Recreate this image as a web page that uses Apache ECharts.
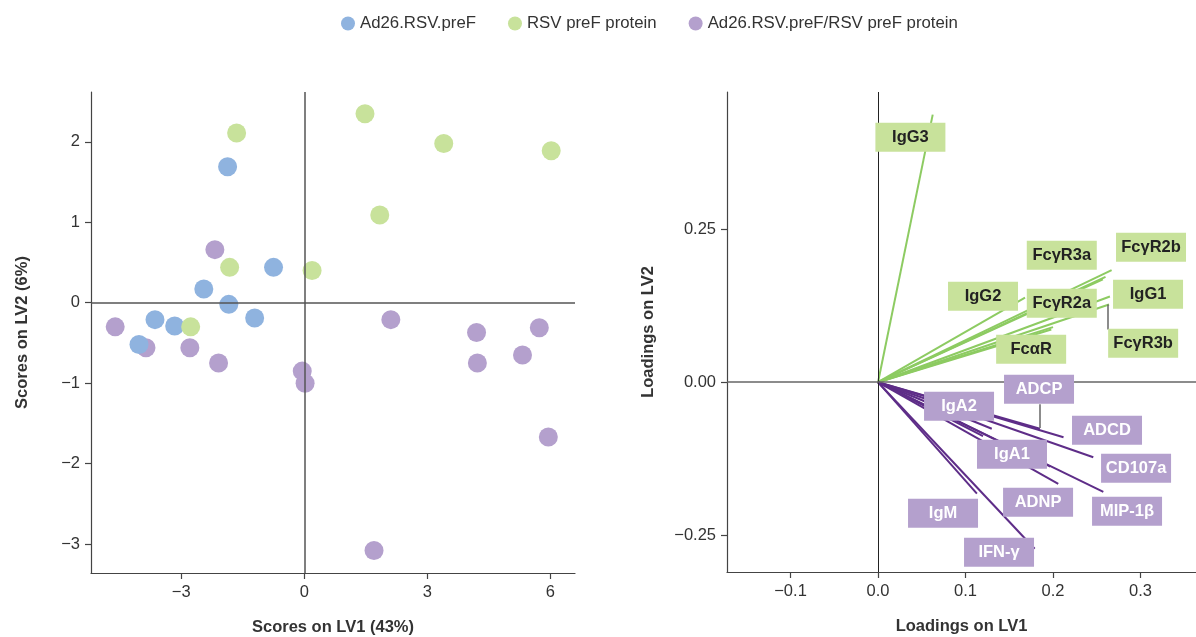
<!DOCTYPE html>
<html>
<head>
<meta charset="UTF-8">
<title>PLS-DA scores and loadings</title>
</head>
<body style="margin:0">
<div id="main" style="width:1196px;height:637px;"></div>
<script src="https://cdn.jsdelivr.net/npm/echarts@6/dist/echarts.min.js"></script>
<script>
// groups (left panel)
const groupNames = ['Ad26.RSV.preF', 'RSV preF protein', 'Ad26.RSV.preF/RSV preF protein'];
const groupColors = ['#8fb3df', '#c8e29b', '#b4a0cd'];

// scores [LV1, LV2]
const scoresAd26 = [[-1.87, 1.69], [-0.75, 0.44], [-2.45, 0.17], [-1.84, -0.02], [-1.21, -0.19],
  [-3.64, -0.21], [-3.16, -0.29], [-4.03, -0.52]];
const scoresProtein = [[1.48, 2.35], [3.40, 1.98], [6.02, 1.89], [-1.65, 2.11], [1.84, 1.09],
  [-1.82, 0.44], [0.19, 0.40], [-2.77, -0.30]];
const scoresCombo = [[-2.18, 0.66], [-4.61, -0.30], [-3.86, -0.56], [-2.79, -0.56], [-2.09, -0.75],
  [-0.05, -0.85], [0.02, -1.00], [2.11, -0.21], [4.20, -0.37], [4.22, -0.75], [5.73, -0.31],
  [5.32, -0.65], [5.95, -1.67], [1.70, -3.08]];

// loadings (right panel)
const greenFeatures = ['IgG3', 'Fc\u03b3R3a', 'Fc\u03b3R2b', 'IgG2', 'Fc\u03b3R2a', 'IgG1', 'Fc\u03b3R3b', 'Fc\u03b1R'];
const greenLoadings = [[0.0625, 0.437], [0.260, 0.172], [0.267, 0.183], [0.168, 0.138], [0.200, 0.090],
  [0.265, 0.140], [0.264, 0.127], [0.198, 0.086]];
const greenLabelAt = [[0.037, 0.400], [0.210, 0.2075], [0.312, 0.2206], [0.120, 0.1405], [0.210, 0.1291],
  [0.3086, 0.1438], [0.303, 0.0637], [0.175, 0.0539]];
const purpleFeatures = ['ADCP', 'IgA2', 'ADCD', 'IgA1', 'CD107a', 'ADNP', 'MIP-1\u03b2', 'IgM', 'IFN-\u03b3'];
const purpleLoadings = [[0.185, -0.076], [0.130, -0.076], [0.212, -0.090], [0.197, -0.138], [0.246, -0.1225],
  [0.206, -0.166], [0.2575, -0.179], [0.113, -0.182], [0.179, -0.272]];
const purpleLabelAt = [[0.184, -0.0114], [0.0926, -0.0392], [0.2617, -0.0784], [0.1531, -0.1176], [0.2949, -0.1405],
  [0.1829, -0.1961], [0.2846, -0.2108], [0.0743, -0.2141], [0.1383, -0.2778]];
const extraGreen = [[0.257, 0.168]];
const extraPurple = [[0.120, -0.088]];
const leaders = [[[0.263, 0.127], [0.263, 0.086]], [[0.185, -0.036], [0.185, -0.075]]];

// tick labels
const scoreXTicks = [-3, 0, 3, 6];
const scoreYTicks = [-3, -2, -1, 0, 1, 2];
const loadXTicks = [-0.1, 0, 0.1, 0.2, 0.3];
const loadYTicks = [-0.25, 0, 0.25];

const minus = v => String(v).replace('-', '\u2212');
const txt = '#333';
const axisCol = '#444';

function valAxis(grid, min, max, ticks, fmt, name, gap) {
  return {
    gridIndex: grid, type: 'value', min: min, max: max,
    splitLine: { show: false },
    axisLine: { onZero: false, lineStyle: { color: axisCol, width: 1.2 } },
    axisTick: { customValues: ticks, length: 6, lineStyle: { color: axisCol, width: 1.2 } },
    axisLabel: { customValues: ticks, formatter: fmt, fontSize: 16.5, color: txt, margin: 11 },
    name: name, nameLocation: 'middle', nameGap: gap,
    nameTextStyle: { fontWeight: 'bold', fontSize: 16.5, color: txt }
  };
}

function scoreSeries(i, data, z) {
  return {
    type: 'scatter', name: groupNames[i], xAxisIndex: 0, yAxisIndex: 0, z: z,
    symbolSize: 19, itemStyle: { color: groupColors[i], opacity: 1 },
    data: data
  };
}

function labelSeries(names, at, bg, color) {
  return {
    type: 'scatter', xAxisIndex: 1, yAxisIndex: 1, symbolSize: 1, z: 5, silent: true,
    itemStyle: { color: 'rgba(0,0,0,0)', opacity: 1 },
    label: {
      show: true, position: 'inside', formatter: '{b}', opacity: 1,
      backgroundColor: bg, color: color, fontWeight: 'bold', fontSize: 16.5,
      width: 60, height: 19, lineHeight: 19, padding: [5, 5], align: 'center', verticalAlign: 'middle'
    },
    data: names.map((n, i) => ({ name: n, value: at[i] }))
  };
}

function rayList(pts) {
  return pts.map(p => ({ coords: [[0, 0], p] }));
}

var myChart = echarts.init(document.getElementById('main'));

let option = {
  animation: false,
  textStyle: { fontFamily: 'Liberation Sans, Arial, sans-serif' },
  legend: {
    left: 336, top: 10, icon: 'circle', itemWidth: 14, itemHeight: 14, itemGap: 32,
    textStyle: { fontSize: 16.8, color: txt },
    data: groupNames
  },
  grid: [
    { left: 91, right: 621, top: 92, bottom: 64, outerBoundsMode: 'none' },
    { left: 727, right: 0, top: 92, bottom: 65, outerBoundsMode: 'none' }
  ],
  xAxis: [
    valAxis(0, -5.2, 6.6, scoreXTicks, v => minus(v), 'Scores on LV1 (43%)', 46),
    valAxis(1, -0.1726, 0.3634, loadXTicks, v => minus(v.toFixed(1)), 'Loadings on LV1', 46)
  ],
  yAxis: [
    valAxis(0, -3.36, 2.62, scoreYTicks, v => minus(v), 'Scores on LV2 (6%)', 60),
    valAxis(1, -0.31, 0.474, loadYTicks, v => minus(v.toFixed(2)), 'Loadings on LV2', 70)
  ],
  series: [
    {
      type: 'scatter', xAxisIndex: 0, yAxisIndex: 0, z: 1, data: [],
      markLine: {
        silent: true, symbol: 'none', label: { show: false },
        lineStyle: { color: '#555', width: 1.5, type: 'solid' },
        data: [{ xAxis: 0 }, { yAxis: 0 }]
      }
    },
    scoreSeries(2, scoresCombo, 2),
    scoreSeries(0, scoresAd26, 3),
    scoreSeries(1, scoresProtein, 3),
    {
      type: 'scatter', xAxisIndex: 1, yAxisIndex: 1, z: 1, data: [],
      markLine: {
        silent: true, symbol: 'none', label: { show: false },
        data: [
          { xAxis: 0, lineStyle: { color: '#222', width: 1, type: 'solid' } },
          { yAxis: 0, lineStyle: { color: '#666', width: 1.5, type: 'solid' } }
        ]
      }
    },
    {
      type: 'lines', coordinateSystem: 'cartesian2d', xAxisIndex: 1, yAxisIndex: 1, z: 2, silent: true,
      lineStyle: { color: '#8dcb62', width: 2, opacity: 1 },
      data: rayList(greenLoadings.concat(extraGreen))
    },
    {
      type: 'lines', coordinateSystem: 'cartesian2d', xAxisIndex: 1, yAxisIndex: 1, z: 2, silent: true,
      lineStyle: { color: '#5e2d88', width: 2, opacity: 1 },
      data: rayList(purpleLoadings.concat(extraPurple))
    },
    {
      type: 'lines', coordinateSystem: 'cartesian2d', xAxisIndex: 1, yAxisIndex: 1, z: 2, silent: true,
      lineStyle: { color: '#666', width: 1.5, opacity: 1 },
      data: leaders.map(l => ({ coords: l }))
    },
    labelSeries(greenFeatures, greenLabelAt, '#c8e29b', '#222'),
    labelSeries(purpleFeatures, purpleLabelAt, '#b4a0cd', '#fff')
  ]
};

myChart.setOption(option);
</script>
</body>
</html>
